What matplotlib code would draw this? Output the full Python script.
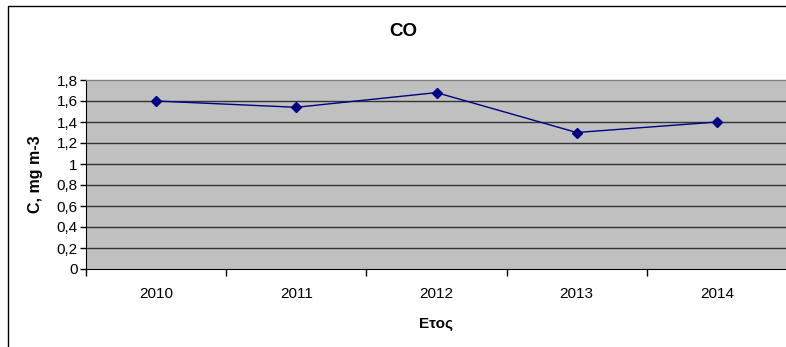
import matplotlib
matplotlib.use("Agg")
import matplotlib.pyplot as plt
from matplotlib.patches import Rectangle
import numpy as np

plt.rcParams['font.family'] = ['Liberation Sans', 'DejaVu Sans']

# Annual mean CO concentration
years = ['2010', '2011', '2012', '2013', '2014']
co_values = [1.60, 1.54, 1.68, 1.30, 1.40]
y_ticks = [0, 0.2, 0.4, 0.6, 0.8, 1.0, 1.2, 1.4, 1.6, 1.8]

fig = plt.figure(figsize=(7.86, 3.47), dpi=100)
fig.patch.set_facecolor('white')

# outer chart frame (runs off the right and bottom edge)
fig.add_artist(Rectangle((8 / 786, -0.05), 1.2, 1 - 6 / 347 + 0.05,
                         transform=fig.transFigure, fill=False,
                         edgecolor='black', linewidth=1.0))

ax = fig.add_axes([86 / 786, 1 - 269 / 347, 701 / 786, 189 / 347])
ax.set_facecolor('#c0c0c0')

x = np.arange(len(years))
ax.plot(x, co_values, color='#000080', linewidth=1.0, marker='D',
        markersize=5, markerfacecolor='#000080', markeredgecolor='#000080',
        zorder=3)

ax.set_xlim(-0.5, len(years) - 0.5)
ax.set_ylim(0, 1.8)

# horizontal gridlines
for t in y_ticks[1:-1]:
    ax.axhline(t, color='#333333', linewidth=1.0, zorder=1)

ax.set_yticks(y_ticks)
ax.set_yticklabels([('%g' % t).replace('.', ',') for t in y_ticks], fontsize=11)
ax.set_xticks(x)
ax.set_xticklabels(years, fontsize=11)
ax.tick_params(axis='x', length=0, pad=13)
ax.set_xticks(np.arange(-0.5, len(years)), minor=True)
ax.tick_params(axis='x', which='minor', length=5, direction='out', width=1)
ax.tick_params(axis='y', length=4, direction='out', width=1, pad=2)

for side in ['top', 'right']:
    ax.spines[side].set_color('#808080')
    ax.spines[side].set_linewidth(1.0)
ax.spines['left'].set_color('black')
ax.spines['bottom'].set_color('black')

ax.set_ylabel('C, mg m-3', fontsize=11.5, fontweight='bold', labelpad=10)
ax.set_xlabel('Ετος', fontsize=11, fontweight='bold', labelpad=11)
fig.text(403 / 786, 1 - 31 / 347, 'CO', fontsize=13.5, fontweight='bold',
         ha='center', va='center')

fig.savefig('out.png', dpi=100, facecolor='white')
